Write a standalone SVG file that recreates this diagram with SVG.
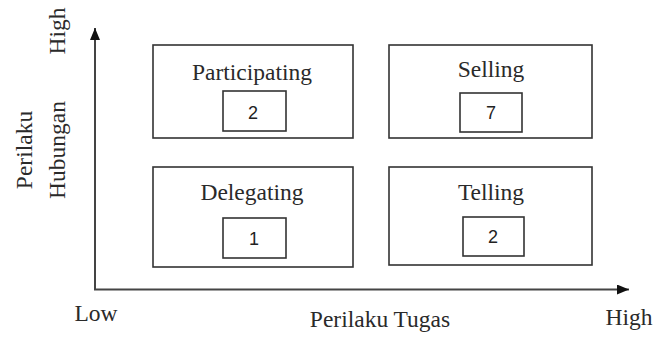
<svg xmlns="http://www.w3.org/2000/svg" width="667" height="338" viewBox="0 0 667 338">
<style>
.box{fill:#fff;stroke:#333;stroke-width:1.6}
.inner{fill:#fff;stroke:#333;stroke-width:1.6}
.t{font-family:"Liberation Serif","Times New Roman",serif;font-size:23.5px;fill:#2a2a2a;text-anchor:middle}
.n{font-family:"Liberation Sans",Arial,sans-serif;font-size:18px;fill:#222;text-anchor:middle}
.axis{stroke:#444;stroke-width:2;fill:none}
</style>
<defs>
<marker id="ah" viewBox="0 0 12 10" refX="12" refY="5" markerWidth="12" markerHeight="10" markerUnits="userSpaceOnUse" orient="auto">
<path d="M0,0 L12,5 L0,10 Z" fill="#111"/>
</marker>
</defs>
<rect width="667" height="338" fill="#fff"/>
<g id="connectors">
<path class="axis" d="M95,290 L95,28" marker-end="url(#ah)"/>
<path class="axis" d="M94,289.5 L629,289.5" marker-end="url(#ah)"/>
</g>
<g id="participating">
<rect class="box" x="153" y="45" width="200" height="93"/>
<text class="t" x="252" y="80">Participating</text>
<rect class="inner" x="223" y="91" width="63" height="40"/>
<text class="n" x="253" y="119">2</text>
</g>
<g id="selling">
<rect class="box" x="389" y="45" width="203" height="93"/>
<text class="t" x="491" y="77">Selling</text>
<rect class="inner" x="460" y="93" width="62" height="39"/>
<text class="n" x="491" y="119">7</text>
</g>
<g id="delegating">
<rect class="box" x="153" y="167" width="200" height="100"/>
<text class="t" x="252" y="200">Delegating</text>
<rect class="inner" x="223" y="218" width="63" height="40"/>
<text class="n" x="254" y="245">1</text>
</g>
<g id="telling">
<rect class="box" x="389" y="167" width="203" height="98"/>
<text class="t" x="491" y="200">Telling</text>
<rect class="inner" x="463" y="217" width="61" height="39"/>
<text class="n" x="493" y="243">2</text>
</g>
<g id="labels">
<text class="t" transform="translate(65,31) rotate(-90)">High</text>
<text class="t" transform="translate(65,150) rotate(-90)">Hubungan</text>
<text class="t" transform="translate(32,150) rotate(-90)">Perilaku</text>
<text class="t" x="96" y="321">Low</text>
<text class="t" x="380" y="327">Perilaku Tugas</text>
<text class="t" x="629" y="325">High</text>
</g>
</svg>
